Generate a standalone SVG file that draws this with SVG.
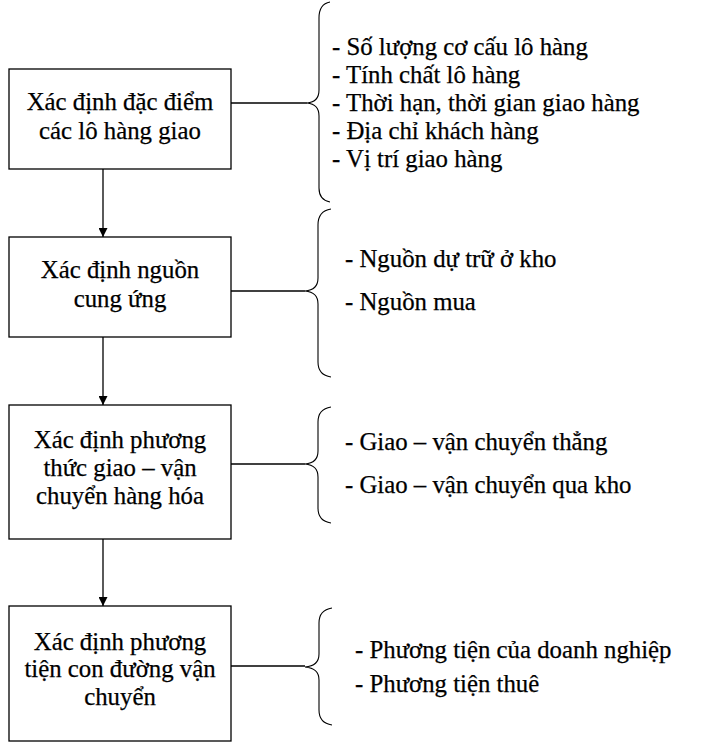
<svg xmlns="http://www.w3.org/2000/svg" width="707" height="752" viewBox="0 0 707 752">
<defs>
<marker id="arr" viewBox="0 0 10 10" refX="10" refY="5" markerWidth="10" markerHeight="9" markerUnits="userSpaceOnUse" orient="auto">
<path d="M0,0 L10,5 L0,10 Z" fill="#000"/>
</marker>
<style>
.box{fill:#fff;stroke:#000;stroke-width:1.3}
.ln{fill:none;stroke:#000;stroke-width:1.3}
.br{fill:none;stroke:#000;stroke-width:1.1}
.c{text-anchor:middle}
.t{font-family:'Times New Roman','Liberation Serif',serif;font-size:24.8px;fill:#000;stroke:#000;stroke-width:0.25}
</style>
</defs>
<rect width="707" height="752" fill="#fff"/>
<g id="connectors">
<line class="ln" x1="103" y1="169" x2="103" y2="237" marker-end="url(#arr)"/>
<line class="ln" x1="103" y1="337" x2="103" y2="405" marker-end="url(#arr)"/>
<line class="ln" x1="103" y1="539" x2="103" y2="606" marker-end="url(#arr)"/>
<line class="ln" x1="231" y1="103" x2="307" y2="103"/>
<line class="ln" x1="231" y1="291" x2="305" y2="291"/>
<line class="ln" x1="231" y1="464" x2="305" y2="464"/>
<line class="ln" x1="231" y1="666" x2="305" y2="666"/>
</g>
<g class="t">
<g id="node1">
<rect class="box" x="9" y="69" width="222" height="100"/>
<text class="c" x="120" y="110">Xác định đặc điểm</text>
<text class="c" x="120" y="139">các lô hàng giao</text>
</g>
<g id="node2">
<rect class="box" x="9" y="237" width="222" height="100"/>
<text class="c" x="120" y="278">Xác định nguồn</text>
<text class="c" x="120" y="307">cung ứng</text>
</g>
<g id="node3">
<rect class="box" x="9" y="405" width="222" height="134"/>
<text class="c" x="120" y="448">Xác định phương</text>
<text class="c" x="120" y="476">thức giao – vận</text>
<text class="c" x="120" y="504">chuyển hàng hóa</text>
</g>
<g id="node4">
<rect class="box" x="9" y="606" width="222" height="135"/>
<text class="c" x="120" y="650">Xác định phương</text>
<text class="c" x="120" y="677">tiện con đường vận</text>
<text class="c" x="120" y="705">chuyển</text>
</g>
<g id="brace1">
<path class="br" d="M330,2 Q319,4 319,18 L319,90 Q319,102 307,103 Q319,104 319,116 L319,188 Q319,200 330,202"/>
<text x="332" y="55">- Số lượng cơ cấu lô hàng</text>
<text x="332" y="83">- Tính chất lô hàng</text>
<text x="332" y="111">- Thời hạn, thời gian giao hàng</text>
<text x="332" y="139">- Địa chỉ khách hàng</text>
<text x="332" y="167">- Vị trí giao hàng</text>
</g>
<g id="brace2">
<path class="br" d="M331,209 Q318,211 318,225 L318,278 Q318,290 305,291 Q318,292 318,304 L318,362 Q318,375 331,377"/>
<text x="345" y="267">- Nguồn dự trữ ở kho</text>
<text x="345" y="310">- Nguồn mua</text>
</g>
<g id="brace3">
<path class="br" d="M331,407 Q318,409 318,422 L318,451 Q318,463 305,464 Q318,465 318,477 L318,508 Q318,521 331,523"/>
<text x="345" y="450">- Giao – vận chuyển thẳng</text>
<text x="345" y="493">- Giao – vận chuyển qua kho</text>
</g>
<g id="brace4">
<path class="br" d="M332,608 Q319,610 319,623 L319,654 Q319,666 305,667 Q319,668 319,680 L319,710 Q319,723 332,725"/>
<text x="355" y="658">- Phương tiện của doanh nghiệp</text>
<text x="355" y="692">- Phương tiện thuê</text>
</g>
</g>
</svg>
